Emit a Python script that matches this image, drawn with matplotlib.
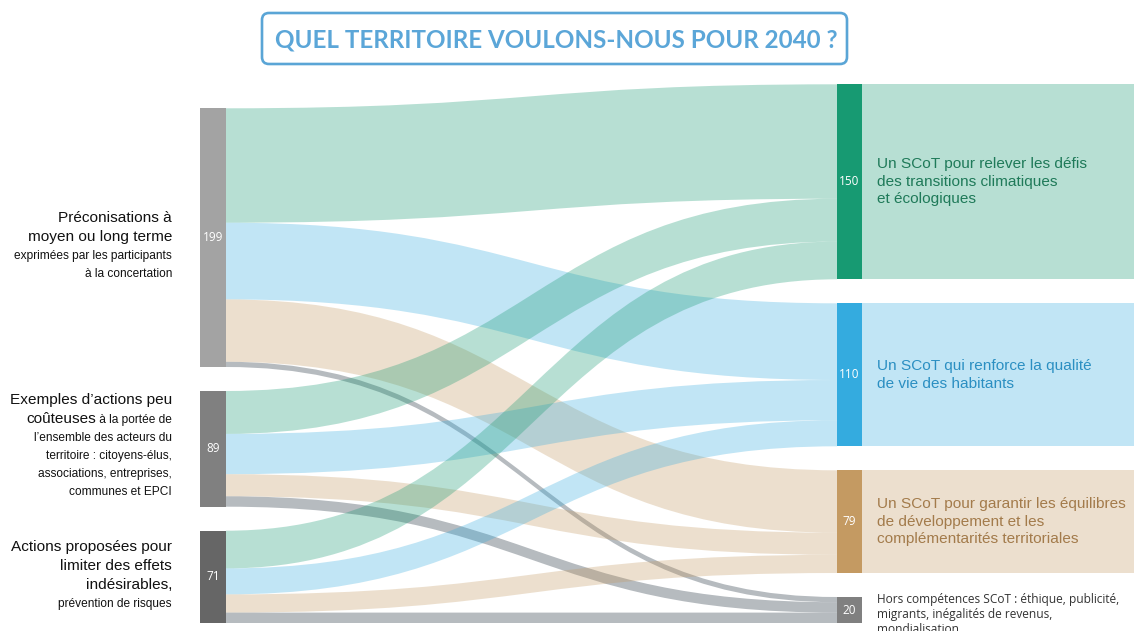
import matplotlib
matplotlib.use("Agg")
import matplotlib.pyplot as plt
from matplotlib.path import Path
from matplotlib.patches import PathPatch, Rectangle, FancyBboxPatch

# --- data -------------------------------------------------------------
source_names = ["199", "89", "71"]
target_names = ["150", "110", "79", "20"]

# flows[i][j] : from source i to target j
flows = [
    [88, 59, 48, 4],
    [33, 31, 17, 8],
    [29, 20, 14, 8],
]

target_labels = [
    "Un SCoT pour relever les défis\ndes transitions climatiques\net écologiques",
    "Un SCoT qui renforce la qualité\nde vie des habitants",
    "Un SCoT pour garantir les équilibres\nde développement et les\ncomplémentarités territoriales",
    "Hors compétences SCoT : éthique, publicité,\nmigrants, inégalités de revenus,\nmondialisation",
]

# left labels: list of lines, each line = list of (text, big?)
source_labels = [
    [[("Préconisations à", True)],
     [("moyen ou long terme", True)],
     [("exprimées par les participants", False)],
     [("à la concertation", False)]],
    [[("Exemples d’actions peu", True)],
     [("coûteuses", True), (" à la portée de", False)],
     [("l’ensemble des acteurs du", False)],
     [("territoire : citoyens-élus,", False)],
     [("associations, entreprises,", False)],
     [("communes et EPCI", False)]],
    [[("Actions proposées pour", True)],
     [("limiter des effets", True)],
     [("indésirables,", True)],
     [("prévention de risques", False)]],
]

title = "QUEL TERRITOIRE VOULONS-NOUS POUR 2040 ?"

# --- style ------------------------------------------------------------
source_colors = ["#a3a3a3", "#808080", "#666666"]
target_colors = ["#179a72", "#34abdf", "#c49a62", "#808080"]
link_colors = ["#179a72", "#34abdf", "#c49a62", "#5d6872"]
link_alpha = [0.31, 0.30, 0.31, 0.45]
text_colors = ["#1f7a59", "#2b8fc2", "#a37b4b", "#333333"]

W, H = 1134, 631
scale = 1.3          # px per unit
gap = 24
bottom = 623
x_src, w_src = 200, 26
x_tgt, w_tgt = 837, 25

fig = plt.figure(figsize=(W / 100, H / 100), dpi=100)
ax = fig.add_axes([0, 0, 1, 1])
ax.set_xlim(0, W)
ax.set_ylim(H, 0)
ax.axis("off")

src_tot = [sum(r) for r in flows]
tgt_tot = [sum(flows[i][j] for i in range(len(flows))) for j in range(len(target_names))]


def stack(totals):
    span = sum(totals) * scale + gap * (len(totals) - 1)
    y = bottom - span
    tops = []
    for t in totals:
        tops.append(y)
        y += t * scale + gap
    return tops


src_top = stack(src_tot)
tgt_top = stack(tgt_tot)

# --- links ------------------------------------------------------------
src_cursor = list(src_top)
tgt_cursor = list(tgt_top)
x0 = x_src + w_src
x1 = x_tgt
xm = (x0 + x1) / 2
for i in range(len(flows)):
    for j in range(len(target_names)):
        v = flows[i][j]
        h = v * scale
        y0, y1 = src_cursor[i], tgt_cursor[j]
        src_cursor[i] += h
        tgt_cursor[j] += h
        verts = [(x0, y0), (xm, y0), (xm, y1), (x1, y1),
                 (x1, y1 + h),
                 (xm, y1 + h), (xm, y0 + h), (x0, y0 + h),
                 (x0, y0)]
        codes = [Path.MOVETO, Path.CURVE4, Path.CURVE4, Path.CURVE4,
                 Path.LINETO,
                 Path.CURVE4, Path.CURVE4, Path.CURVE4,
                 Path.CLOSEPOLY]
        ax.add_patch(PathPatch(Path(verts, codes), facecolor=link_colors[j],
                               alpha=link_alpha[j], lw=0))

# --- nodes ------------------------------------------------------------
for i, (t, top) in enumerate(zip(src_tot, src_top)):
    ax.add_patch(Rectangle((x_src, top), w_src, t * scale, color=source_colors[i], lw=0))
    ax.text(x_src + w_src / 2, top + t * scale / 2, source_names[i], color="white",
            ha="center", va="center", fontsize=8.5, family="Open Sans")

for j, (t, top) in enumerate(zip(tgt_tot, tgt_top)):
    h = t * scale
    if j < 3:
        ax.add_patch(Rectangle((x_tgt + w_tgt, top), W - x_tgt - w_tgt, h,
                               color=link_colors[j], alpha=link_alpha[j], lw=0))
    ax.add_patch(Rectangle((x_tgt, top), w_tgt, h, color=target_colors[j], lw=0))
    ax.text(x_tgt + w_tgt / 2, top + h / 2, target_names[j], color="white",
            ha="center", va="center", fontsize=8.5, family="Open Sans")
    if j < 3:
        ax.text(877, top + h / 2, target_labels[j], color=text_colors[j],
                ha="left", va="center", fontsize=11.1, family="Liberation Sans",
                linespacing=1.33)
    else:
        ax.text(877, top - 4, target_labels[j], color=text_colors[j],
                ha="left", va="top", fontsize=8.6, family="Open Sans",
                linespacing=1.18)

# --- left labels (mixed sizes, right aligned) ------------------------
renderer = fig.canvas.get_renderer()
big, small = 11.1, 8.6
first_dy = [-16, -45, -26]   # first baseline relative to node centre
x_right = 172
for i, lines in enumerate(source_labels):
    y = src_top[i] + src_tot[i] * scale / 2 + first_dy[i]
    for k, parts in enumerate(lines):
        if k > 0:
            y += 19 if any(b for _, b in parts) else 18
        x = x_right
        for txt, is_big in reversed(parts):
            t = ax.text(x, y, txt, ha="right", va="baseline",
                        fontsize=big if is_big else small,
                        family="Liberation Sans", color="#111111")
            x -= t.get_window_extent(renderer).width

# --- title ------------------------------------------------------------
ax.add_patch(FancyBboxPatch((262, 13), 585, 51, boxstyle="round,pad=0,rounding_size=7",
                            fc="white", ec="#5aa5d6", lw=1.9))
ax.text(556, 40, title, ha="center", va="center", color="#5ba6d8",
        fontsize=17.4, fontweight="bold", family="Lato")

fig.savefig("out.png", dpi=100)
